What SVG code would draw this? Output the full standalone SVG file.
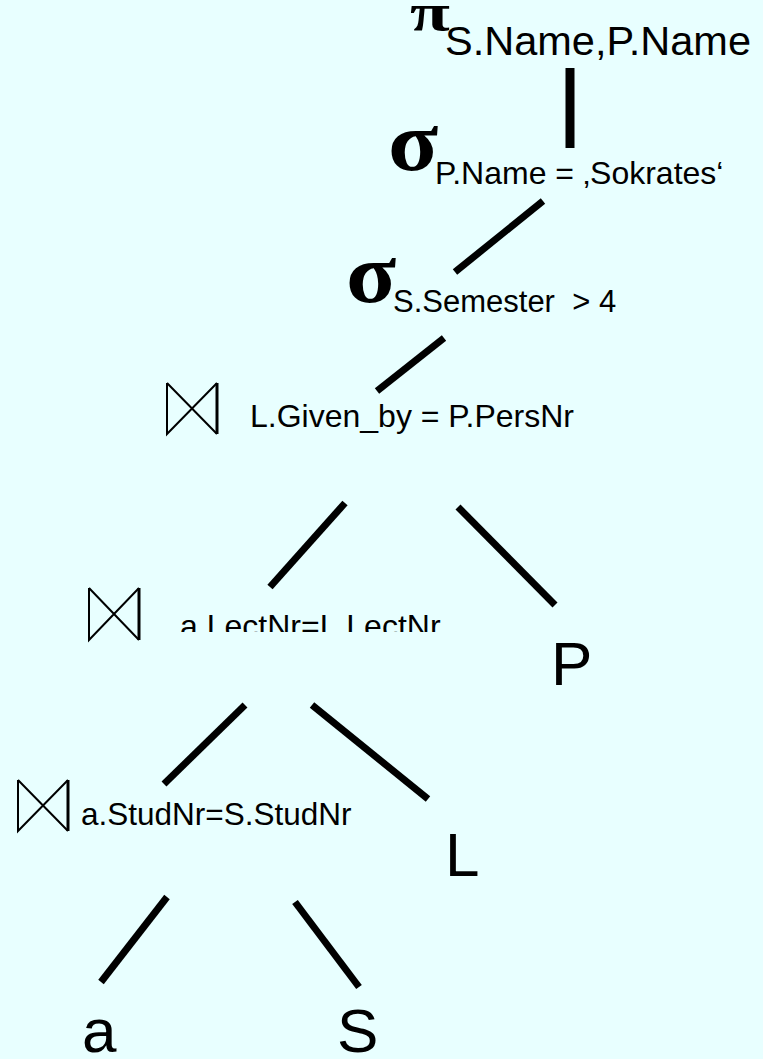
<svg xmlns="http://www.w3.org/2000/svg" width="763" height="1059" viewBox="0 0 763 1059">
  <defs>
    <style>
      .lbl { font-family: "Liberation Sans", Arial, sans-serif; fill: #000; }
      .greek { font-family: "Liberation Serif", "Times New Roman", serif; font-weight: bold; fill: #000; }
      .edge { stroke: #000; stroke-width: 7; stroke-linecap: butt; fill: none; }
      .bowtie { stroke: #000; stroke-width: 2; fill: none; }
    </style>
    <!-- lower edge of the middle join label is cut off -->
    <clipPath id="clipJoin2">
      <rect x="150" y="590" width="320" height="42"/>
    </clipPath>
  </defs>

  <rect width="763" height="1059" fill="#E8FFFF"/>

  <!-- connectors -->
  <g id="connectors">
    <line class="edge" x1="570" y1="68" x2="570" y2="148" style="stroke-width:9"/>
    <line class="edge" x1="543" y1="201" x2="455" y2="272"/>
    <line class="edge" x1="444" y1="338" x2="377" y2="391"/>
    <line class="edge" x1="345" y1="503" x2="270" y2="587"/>
    <line class="edge" x1="458" y1="507" x2="555" y2="605"/>
    <line class="edge" x1="245" y1="705" x2="164" y2="784"/>
    <line class="edge" x1="312" y1="705" x2="428" y2="799"/>
    <line class="edge" x1="167" y1="897" x2="101" y2="982"/>
    <line class="edge" x1="295" y1="902" x2="359" y2="987"/>
  </g>

  <!-- projection -->
  <g id="proj">
    <text class="greek" font-size="52" transform="translate(410,30) scale(1.4,1)">π</text>
    <text class="lbl" x="445" y="55" font-size="41.5">S.Name,P.Name</text>
  </g>

  <!-- selection on professor name -->
  <g id="sel-name">
    <text class="greek" font-size="84" transform="translate(388,170) scale(1.1,1)">σ</text>
    <text class="lbl" x="435" y="184" font-size="32">P.Name = ‚Sokrates‘</text>
  </g>

  <!-- selection on semester -->
  <g id="sel-semester">
    <text class="greek" font-size="84" transform="translate(346,302) scale(1.1,1)">σ</text>
    <text class="lbl" x="393" y="312" font-size="31" xml:space="preserve">S.Semester  &gt; 4</text>
  </g>

  <!-- join with professors -->
  <g id="join1">
    <path class="bowtie" d="M167,383 V434 L217,383 M167,383 L217,434"/>
    <line class="bowtie" x1="217" y1="383" x2="217" y2="434" style="stroke-width:3"/>
    <text class="lbl" x="250" y="427" font-size="32">L.Given_by = P.PersNr</text>
  </g>

  <!-- join with lectures -->
  <g id="join2">
    <path class="bowtie" d="M89,588 V640 L139,588 M89,588 L139,640"/>
    <line class="bowtie" x1="139" y1="588" x2="139" y2="640" style="stroke-width:3"/>
    <text class="lbl" x="180" y="637" font-size="32" clip-path="url(#clipJoin2)">a.LectNr=L.LectNr</text>
  </g>

  <!-- join of attends and students -->
  <g id="join3">
    <path class="bowtie" d="M18,780 V831 L68,780 M18,780 L68,831"/>
    <line class="bowtie" x1="68" y1="780" x2="68" y2="831" style="stroke-width:3"/>
    <text class="lbl" x="81" y="825" font-size="31.5">a.StudNr=S.StudNr</text>
  </g>

  <!-- base relations -->
  <g id="rel-P"><text class="lbl" x="551" y="685" font-size="62">P</text></g>
  <g id="rel-L"><text class="lbl" x="445" y="876" font-size="62">L</text></g>
  <g id="rel-a"><text class="lbl" x="82" y="1052" font-size="62">a</text></g>
  <g id="rel-S"><text class="lbl" x="337" y="1052" font-size="62">S</text></g>
</svg>
